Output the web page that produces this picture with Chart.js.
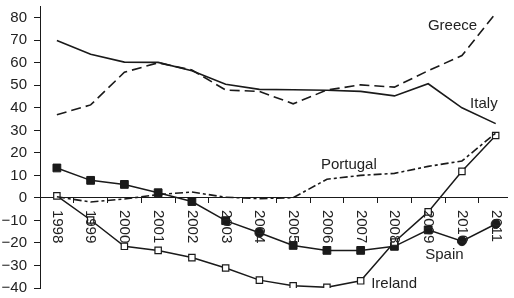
<!DOCTYPE html>
<html>
<head>
<meta charset="utf-8">
<script src="https://cdn.jsdelivr.net/npm/chart.js@4.4.1/dist/chart.umd.min.js"></script>
<style>
  html, body { margin: 0; padding: 0; background: #fff; }
  #wrap { width: 514px; height: 298px; position: relative; }
</style>
</head>
<body>
<div id="wrap"><canvas id="myChart"></canvas></div>
<script>
/*--data--*/
var years = [1998, 1999, 2000, 2001, 2002, 2003, 2004, 2005, 2006, 2007, 2008, 2009, 2010, 2011];
var greece   = [36.9, 41.3, 55.8, 60.0, 56.8, 47.9, 47.3, 41.8, 47.9, 50.2, 49.2, 56.5, 63.2, 82.0];
var italy    = [69.9, 63.8, 60.3, 60.2, 56.5, 50.5, 48.2, 48.0, 47.8, 47.3, 45.3, 50.7, 40.0, 33.0];
var portugal = [0.5, -1.8, -0.5, 1.5, 2.6, 0.3, -0.3, 0.1, 8.3, 10.0, 10.9, 14.0, 16.4, 28.8];
var spain    = [13.3, 7.8, 6.0, 2.3, -1.6, -10.1, -15.5, -21.1, -23.3, -23.3, -21.5, -14.2, -19.2, -11.6];
var ireland  = [0.9, -9.8, -21.5, -23.3, -26.5, -31.1, -36.5, -39.0, -39.7, -36.8, -19.6, -6.2, 11.8, 27.7];
var spainMarkers = ['rect', 'rect', 'rect', 'rect', 'rect', 'rect', 'circle', 'rect', 'rect', 'rect', 'rect', 'rect', 'circle', 'circle'];
var yTicks = [-40, -30, -20, -10, 0, 10, 20, 30, 40, 50, 60, 70, 80];

// series name labels, anchored in data units
var seriesNames = [
  { text: 'Greece',   x: 2009.72, y: 76.5 },
  { text: 'Italy',    x: 2010.65, y: 41.8 },
  { text: 'Portugal', x: 2006.65, y: 14.9 },
  { text: 'Spain',    x: 2009.48, y: -25.1 },
  { text: 'Ireland',  x: 2007.99, y: -38.2 }
];

var ink = '#1a1a1a';
var fontFamily = '"Liberation Sans", Arial, Helvetica, sans-serif';

function pts(values) {
  return values.map(function (v, i) { return { x: years[i], y: v }; });
}

var labelPlugin = {
  id: 'labelPlugin',
  afterDraw: function (chart) {
    var ctx = chart.ctx;
    var xs = chart.scales.x, ys = chart.scales.y;
    var y0 = ys.getPixelForValue(0);
    ctx.save();
    ctx.fillStyle = '#222';
    ctx.font = '15px ' + fontFamily;
    // rotated year labels below the zero line
    years.forEach(function (yr) {
      ctx.save();
      ctx.translate(xs.getPixelForValue(yr), y0 + 12);
      ctx.rotate(Math.PI / 2);
      ctx.textAlign = 'left';
      ctx.textBaseline = 'middle';
      ctx.fillText(String(yr), 0, 0);
      ctx.restore();
    });
    // series names
    ctx.textAlign = 'center';
    ctx.textBaseline = 'middle';
    seriesNames.forEach(function (s) {
      ctx.fillText(s.text, xs.getPixelForValue(s.x), ys.getPixelForValue(s.y));
    });
    ctx.restore();
  }
};

var ctx = document.getElementById('myChart').getContext('2d');
var myChart = new Chart(ctx, {
  type: 'line',
  plugins: [labelPlugin],
  data: {
    datasets: [
      {
        label: 'Greece',
        data: pts(greece),
        borderColor: ink,
        borderWidth: 1.6,
        borderDash: [10, 5],
        pointRadius: 0
      },
      {
        label: 'Italy',
        data: pts(italy),
        borderColor: ink,
        borderWidth: 1.6,
        pointRadius: 0
      },
      {
        label: 'Portugal',
        data: pts(portugal),
        borderColor: ink,
        borderWidth: 1.6,
        borderDash: [8, 3, 3, 3],
        pointRadius: 0
      },
      {
        label: 'Ireland',
        data: pts(ireland),
        borderColor: ink,
        borderWidth: 1.5,
        pointStyle: 'rect',
        pointRadius: 4.5,
        pointBackgroundColor: '#fff',
        pointBorderColor: ink,
        pointBorderWidth: 1.2
      },
      {
        label: 'Spain',
        data: pts(spain),
        borderColor: ink,
        borderWidth: 1.5,
        pointStyle: spainMarkers,
        pointRadius: spainMarkers.map(function (m) { return m === 'rect' ? 5.5 : 4.5; }),
        pointBackgroundColor: ink,
        pointBorderColor: ink,
        pointBorderWidth: 1
      }
    ]
  },
  options: {
    responsive: true,
    maintainAspectRatio: false,
    animation: false,
    layout: { padding: { top: 4, right: 0, bottom: 10, left: 0 } },
    plugins: {
      legend: { display: false },
      tooltip: { enabled: false }
    },
    elements: { line: { tension: 0 } },
    scales: {
      x: {
        type: 'linear',
        min: 1997.5,
        max: 2011.35,
        position: { y: 0 },
        afterBuildTicks: function (scale) {
          scale.ticks = years.slice(0, -1).map(function (yr) { return { value: yr + 0.5 }; });
        },
        grid: { drawOnChartArea: false, drawTicks: true, tickLength: 5, color: ink, lineWidth: 1 },
        border: { display: true, color: ink, width: 1 },
        ticks: { display: false }
      },
      y: {
        min: -40,
        max: 85,
        afterBuildTicks: function (scale) {
          scale.ticks = yTicks.map(function (v) { return { value: v }; });
        },
        afterFit: function (scale) {
          scale.width = 40;
          scale.paddingTop = 0;
          scale.paddingBottom = 0;
        },
        grid: { drawOnChartArea: false, drawTicks: true, tickLength: 6, color: ink, lineWidth: 1 },
        border: { display: true, color: ink, width: 1 },
        ticks: {
          color: '#222',
          padding: 7,
          font: { size: 15, family: fontFamily },
          callback: function (v) { return String(v).replace('-', '\u2212'); }
        }
      }
    }
  }
});
</script>
</body>
</html>
